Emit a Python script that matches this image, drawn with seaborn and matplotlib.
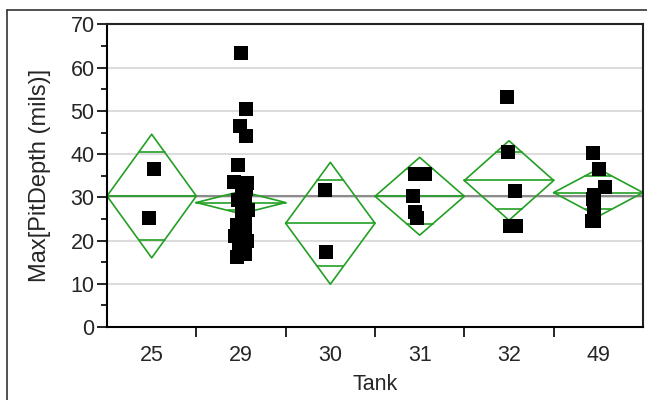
import numpy as np
import pandas as pd
import seaborn as sns
import matplotlib.pyplot as plt
from matplotlib.lines import Line2D

# Data (Max pit depth by tank)
tanks = ['25', '29', '30', '31', '32', '49']
depth_25 = [36.5, 25.3]
depth_29 = [63.5, 50.5, 46.4, 44.3, 37.4, 33.5, 33.3, 32.0, 31.0, 30.4, 29.5, 28.5,
            27.2, 27.0, 26.0, 24.8, 23.5, 22.5, 21.8, 21.0, 20.0, 19.0, 18.5, 17.5,
            16.8, 16.3]
depth_30 = [31.6, 17.4]
depth_31 = [35.3, 35.3, 30.2, 26.5, 25.3]
depth_32 = [53.3, 40.4, 31.5, 23.4, 23.3]
depth_49 = [40.3, 36.6, 32.5, 30.5, 29.6, 27.3, 24.6, 24.6]

# means diamonds (group mean and 95% CI half width)
means = [30.3, 28.8, 24.0, 30.25, 33.9, 31.1]
ci_half = [14.3, 2.6, 14.1, 9.0, 9.2, 5.5]
grand_mean = 30.2

groups = [depth_25, depth_29, depth_30, depth_31, depth_32, depth_49]
df = pd.DataFrame({
    'Tank': np.repeat(tanks, [len(g) for g in groups]),
    'depth': np.concatenate(groups),
})

sns.set_style('white')
plt.rcParams['font.family'] = ['Liberation Sans', 'DejaVu Sans']

fig = plt.figure(figsize=(6.47, 4.0), dpi=100)
ax = fig.add_axes([0.1654, 0.1825, 0.8284, 0.7563])

green = '#23a023'
ax.axhline(grand_mean, color='#8c8c8c', lw=1.5, zorder=1)

for i, (m, h) in enumerate(zip(means, ci_half)):
    xs = [i - 0.5, i, i + 0.5, i, i - 0.5]
    ys = [m, m + h, m, m - h, m]
    ax.plot(xs, ys, color=green, lw=1.2, zorder=2)
    ax.plot([i - 0.5, i + 0.5], [m, m], color=green, lw=1.2, zorder=2)
    w = 0.5 * (1 - 1 / np.sqrt(2))
    for s in (1, -1):
        y = m + s * h / np.sqrt(2)
        ax.plot([i - w, i + w], [y, y], color=green, lw=1.2, zorder=2)

sns.stripplot(data=df, x='Tank', y='depth', order=tanks, jitter=0.08, marker='s',
              color='black', size=10.5, linewidth=0, ax=ax, zorder=3)

ax.set_xlim(-0.5, 5.5)
ax.set_ylim(0, 70)
ax.set_yticks(range(0, 71, 10))
ax.set_yticks(range(5, 70, 10), minor=True)
ax.yaxis.grid(True, which='major', color='#d9d9d9', lw=1.3)
ax.set_axisbelow(True)
ax.set_xticks(range(len(tanks)))
ax.set_xticklabels(tanks)
ax.set_xticks(np.arange(0.5, 5.0, 1.0), minor=True)
ax.tick_params(axis='x', which='major', length=0, pad=13, labelsize=15.5)
ax.tick_params(axis='x', which='minor', length=7, width=1.2, color='black', direction='out', bottom=True)
ax.tick_params(axis='y', which='major', length=7, width=1.2, color='black', direction='out', left=True, labelsize=15.5, pad=2)
ax.tick_params(axis='y', which='minor', length=4, width=1.2, color='black', direction='out', left=True)

for side in ['left', 'bottom']:
    ax.spines[side].set_color('black')
    ax.spines[side].set_linewidth(1.5)
for side in ['top', 'right']:
    ax.spines[side].set_color('#222222')
    ax.spines[side].set_linewidth(1.5)

ax.set_xlabel('Tank', fontsize=15.5, labelpad=6)
ax.set_ylabel('Max[PitDepth (mils)]', fontsize=17, labelpad=14)

# report outline
fig.add_artist(Line2D([7 / 647, 1], [390 / 400, 390 / 400], color='#333333', lw=1.2))
fig.add_artist(Line2D([7 / 647, 7 / 647], [0, 390 / 400], color='#333333', lw=1.2))

plt.savefig('out.png', dpi=100)
